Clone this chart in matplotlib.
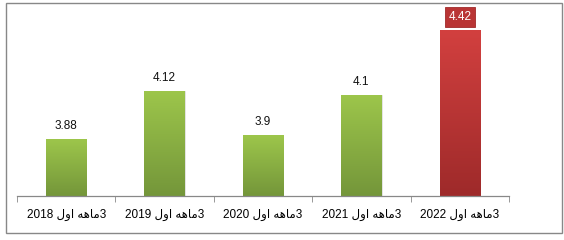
import numpy as np
import matplotlib
matplotlib.use("Agg")
import matplotlib.pyplot as plt
from matplotlib.colors import LinearSegmentedColormap
from matplotlib.patches import Rectangle

# data
categories = ["3ماهه اول 2018", "3ماهه اول 2019", "3ماهه اول 2020",
              "3ماهه اول 2021", "3ماهه اول 2022"]
values = [3.88, 4.12, 3.9, 4.1, 4.42]
value_labels = ["3.88", "4.12", "3.9", "4.1", "4.42"]
highlight = [False, False, False, False, True]

# minimal arabic shaping (matplotlib has no complex text layout)
# letter -> (isolated, final, initial, medial); None initial means right-joining only
FORMS = {
    "ا": ("\ufe8d", "\ufe8e", None, None),
    "و": ("\ufeed", "\ufeee", None, None),
    "ل": ("\ufedd", "\ufede", "\ufedf", "\ufee0"),
    "م": ("\ufee1", "\ufee2", "\ufee3", "\ufee4"),
    "ه": ("\ufee9", "\ufeea", "\ufeeb", "\ufeec"),
}


def shape_rtl(text):
    out = []
    for i, ch in enumerate(text):
        if ch not in FORMS:
            out.append(ch)
            continue
        prev = text[i - 1] if i > 0 else ""
        nxt = text[i + 1] if i + 1 < len(text) else ""
        joins_prev = prev in FORMS and FORMS[prev][2] is not None
        joins_next = nxt in FORMS and FORMS[ch][2] is not None
        iso, fin, ini, med = FORMS[ch]
        if joins_prev and joins_next:
            out.append(med)
        elif joins_prev:
            out.append(fin)
        elif joins_next:
            out.append(ini)
        else:
            out.append(iso)
    s = "".join(out)[::-1]
    # put digit runs back into left-to-right order
    res, run = "", ""
    for ch in s:
        if ch.isdigit():
            run += ch
        else:
            res += run[::-1] + ch
            run = ""
    return res + run[::-1]


plt.rcParams["font.family"] = ["Liberation Sans", "DejaVu Sans"]

fig = plt.figure(figsize=(5.64, 2.4), dpi=100)
ax = fig.add_axes([17 / 564, 44 / 240, 492 / 564, 182 / 240])

x = np.arange(len(values))
green = LinearSegmentedColormap.from_list("g", ["#74963a", "#9dc64b"])
red = LinearSegmentedColormap.from_list("r", ["#9e2a2a", "#d2403f"])
bars = ax.bar(x, values, width=0.41, color="none", edgecolor="none", zorder=2)
ymin, ymax = 3.6, 4.5
grad = np.linspace(0, 1, 256).reshape(-1, 1)
for b, hi in zip(bars, highlight):
    x0, w, h = b.get_x(), b.get_width(), b.get_height()
    im = ax.imshow(grad, extent=[x0, x0 + w, ymin, h], origin="lower",
                   cmap=red if hi else green, aspect="auto", zorder=2)
    clip = Rectangle((x0, ymin), w, h - ymin, transform=ax.transData)
    im.set_clip_path(clip)
    ax.add_patch(Rectangle((x0, ymin), w, h - ymin, fill=False,
                           edgecolor="#c8c8c8", lw=0.6, alpha=0.6, zorder=1))

for xi, v, lab, hi in zip(x, values, value_labels, highlight):
    if hi:
        ax.annotate(lab, (xi, v), xytext=(0, 9.5), textcoords="offset points",
                    ha="center", va="center", fontsize=8.5, color="white",
                    bbox=dict(boxstyle="square,pad=0.3", fc="#b93535",
                              ec="#a02b2b", lw=0.6))
    else:
        ax.annotate(lab, (xi, v), xytext=(0, 9.5), textcoords="offset points",
                    ha="center", va="center", fontsize=8.5, color="#111111")

ax.set_xlim(-0.5, len(values) - 0.5)
ax.set_ylim(ymin, ymax)
ax.set_xticks(x)
ax.set_xticklabels([shape_rtl(c) for c in categories], fontsize=8.5)
ax.set_xticks(np.arange(len(values) + 1) - 0.5, minor=True)
ax.tick_params(axis="x", which="major", length=0, pad=9)
ax.tick_params(axis="x", which="minor", length=4, color="#888888")
ax.set_yticks([])
for s in ["top", "right", "left"]:
    ax.spines[s].set_visible(False)
ax.spines["bottom"].set_color("#888888")
ax.spines["bottom"].set_linewidth(0.9)

fig.add_artist(Rectangle((6 / 564, 7 / 240), 556 / 564, 230 / 240,
                         transform=fig.transFigure, fill=False,
                         edgecolor="#888888", lw=1.0))

fig.savefig("out.png", dpi=100)
